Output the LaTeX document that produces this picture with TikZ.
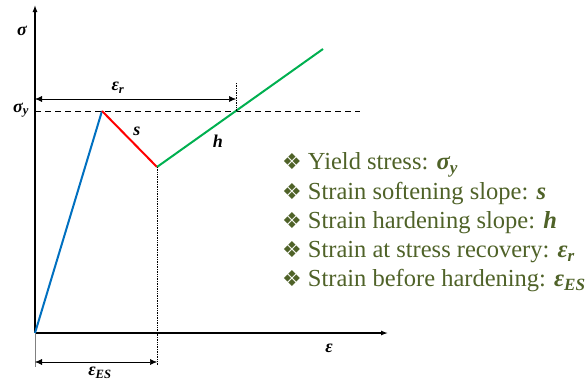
\documentclass[tikz,border=0pt]{standalone}
\usepackage{fontspec}
\setmainfont{Liberation Serif}
\newfontfamily\dingfont{DejaVu Sans}
\usetikzlibrary{arrows.meta,positioning}
\definecolor{ElasticBlue}{HTML}{0070C0}
\definecolor{SoftRed}{HTML}{FF0000}
\definecolor{HardGreen}{HTML}{00B050}
\definecolor{ListOlive}{HTML}{4F6228}
\newcommand{\itemmark}{{\dingfont\fontsize{22}{22}\selectfont ❖}\hspace{6pt}}
\newcommand{\bsym}[2]{\textbf{\textit{#1\textsubscript{#2}}}}

\begin{document}
\begin{tikzpicture}[x=1pt,y=-1pt,
  lbl/.style={font=\fontsize{18}{18}\selectfont\bfseries\itshape,inner sep=1pt},
  axis/.style={-{Latex[length=7pt,width=5pt]},line width=1.3pt},
  branch/.style={line width=2pt},
  dim/.style={{Latex[length=7pt,width=6pt]}-{Latex[length=7pt,width=6pt]},line width=0.5pt},
  guide/.style={densely dotted,line width=0.7pt},
  item/.style={anchor=west,text=ListOlive,font=\fontsize{24.5}{24.5}\selectfont,inner sep=0pt}
]
  \useasboundingbox (0,0) rectangle (587,383);

  % axes
  \coordinate (O) at (35,333);
  \coordinate (ytop) at (35,5);
  \coordinate (xend) at (388,333);
  \draw[axis] (O) -- (ytop);
  \draw[axis] (O) -- (xend);

  % key points of the curve
  \coordinate (peak) at (102,111);
  \coordinate (valley) at (157,167);
  \coordinate (rec) at (236,111);
  \coordinate (top) at (323,49);

  % yield level
  \coordinate (sy) at (35,111);
  \coordinate (syend) at (360,111);
  \draw[dash pattern=on 6pt off 4pt,line width=1pt] (sy) -- (syend);

  \draw[branch,ElasticBlue] (O) -- (peak);
  \draw[branch,SoftRed] (peak) -- (valley);
  \draw[branch,HardGreen] (valley) -- (top);

  % strain at recovery
  \coordinate (rtop) at (236,83);
  \coordinate (rl) at (35,99);
  \coordinate (rr) at (236,99);
  \draw[guide] (rtop) -- (rec);
  \draw[dim] (rl) -- (rr);

  % strain before hardening
  \coordinate (esl) at (35,367);
  \coordinate (esr) at (157,365);
  \coordinate (dl) at (35,362);
  \coordinate (dr) at (157,362);
  \draw[line width=0.5pt,gray] (O) -- (esl);
  \draw[guide] (valley) -- (esr);
  \draw[dim] (dl) -- (dr);

  % labels
  \node[lbl] (sig) at (22,31) {σ};
  \node[lbl] (sigy) at (21,110) {\bsym{σ}{y}};
  \node[lbl] (epsr) at (118,88) {\bsym{ε}{r}};
  \node[lbl] (slab) at (137,131) {s};
  \node[lbl] (hlab) at (218,141) {h};
  \node[lbl] (eps) at (329,348) {ε};
  \node[lbl] (epses) at (100,373) {\bsym{ε}{ES}};

  % parameter list
  \node[item] (l1) at (282,165) {\itemmark Yield stress: \bsym{σ}{y}};
  \node[item] (l2) at (282,194) {\itemmark Strain softening slope: \textbf{\textit{s}}};
  \node[item] (l3) at (282,223) {\itemmark Strain hardening slope: \textbf{\textit{h}}};
  \node[item] (l4) at (282,252) {\itemmark Strain at stress recovery: \bsym{ε}{r}};
  \node[item] (l5) at (282,281) {\itemmark Strain before hardening: \bsym{ε}{ES}};
\end{tikzpicture}
\end{document}
